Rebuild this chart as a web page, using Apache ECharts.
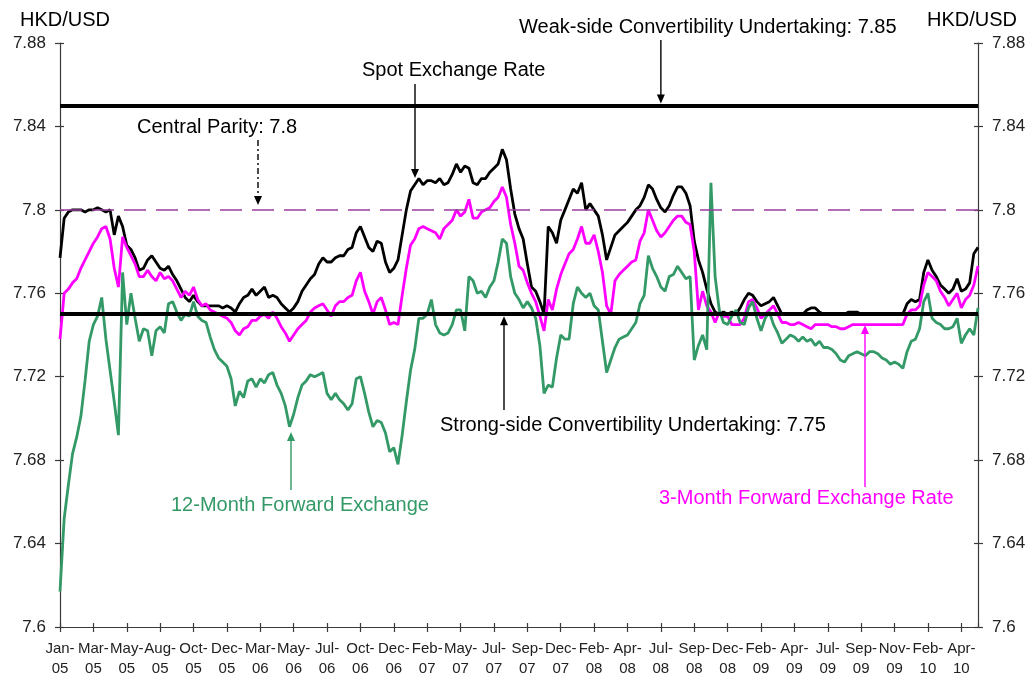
<!DOCTYPE html>
<html><head><meta charset="utf-8">
<script src="https://cdn.jsdelivr.net/npm/echarts@6/dist/echarts.min.js"></script>
<style>html,body{margin:0;padding:0;background:#fff}#c{width:1029px;height:679px}</style>
</head><body><div id="c"></div>
<script>
// ---- tick labels (category ticks along the time axis) ----
const tickMonths = ['Jan-','Mar-','May-','Aug-','Oct-','Dec-','Mar-','May-','Jul-','Oct-','Dec-','Feb-','May-','Jul-','Sep-','Dec-','Feb-','Apr-','Jul-','Sep-','Dec-','Feb-','Apr-','Jul-','Sep-','Nov-','Feb-','Apr-'];
const tickYears  = ['05','05','05','05','05','05','06','06','06','06','06','07','07','07','07','07','08','08','08','08','08','09','09','09','09','09','10','10'];
const pointsPerTick = 8;

// ---- series values (sampled, 8 samples per axis tick) ----
const spot = [
7.777,7.796,7.799,7.800,7.800,7.800,7.799,7.800,7.800,7.801,7.800,7.799,
7.800,7.788,7.797,7.792,7.783,7.781,7.777,7.771,7.772,7.776,7.778,
7.775,7.772,7.771,7.773,7.769,7.766,7.762,7.758,7.756,7.759,7.756,
7.754,7.754,7.754,7.754,7.754,7.753,7.754,7.753,7.751,7.755,7.758,
7.759,7.762,7.759,7.761,7.763,7.758,7.759,7.758,7.755,7.753,7.751,
7.753,7.756,7.761,7.764,7.767,7.769,7.774,7.777,7.775,7.775,7.777,
7.778,7.778,7.781,7.782,7.789,7.792,7.787,7.782,7.780,7.785,7.784,
7.775,7.770,7.772,7.776,7.788,7.800,7.809,7.812,7.815,7.812,7.814,
7.814,7.813,7.815,7.812,7.813,7.817,7.822,7.818,7.821,7.820,7.813,
7.812,7.815,7.815,7.818,7.820,7.822,7.829,7.824,7.810,7.798,7.791,
7.786,7.774,7.763,7.761,7.756,7.750,7.792,7.789,7.784,7.795,7.800,
7.805,7.810,7.808,7.813,7.800,7.803,7.800,7.797,7.788,7.776,7.782,7.788,
7.790,7.792,7.794,7.797,7.800,7.802,7.806,7.812,7.810,7.805,7.801,
7.799,7.802,7.807,7.811,7.811,7.808,7.802,7.785,7.776,7.770,7.762,7.755,
7.751,7.750,7.751,7.750,7.751,7.750,7.753,7.757,7.760,7.759,7.756,
7.754,7.755,7.756,7.758,7.754,7.750,7.750,7.750,7.750,7.750,
7.750,7.752,7.753,7.753,7.751,7.750,7.750,7.750,7.750,7.750,7.750,
7.751,7.751,7.751,7.750,7.750,7.750,7.750,7.750,7.750,7.750,7.750,
7.750,7.750,7.750,7.755,7.757,7.756,7.757,7.770,7.776,7.771,7.768,
7.764,7.762,7.760,7.762,7.767,7.761,7.762,7.765,7.779,7.782
];
const fwd3m = [
7.738,7.760,7.762,7.765,7.767,7.772,7.776,7.780,7.784,7.787,7.791,7.792,
7.786,7.772,7.763,7.787,7.782,7.778,7.774,7.768,7.768,7.771,7.768,
7.766,7.770,7.767,7.768,7.766,7.762,7.758,7.761,7.759,7.763,7.757,
7.754,7.755,7.752,7.751,7.750,7.749,7.748,7.746,7.742,7.740,7.743,
7.744,7.747,7.747,7.749,7.750,7.748,7.751,7.748,7.744,7.741,7.737,
7.740,7.743,7.745,7.747,7.751,7.753,7.754,7.755,7.752,7.749,7.754,
7.756,7.756,7.758,7.759,7.766,7.770,7.761,7.756,7.750,7.756,7.758,
7.752,7.745,7.746,7.745,7.759,7.772,7.783,7.786,7.791,7.792,7.791,
7.790,7.789,7.786,7.791,7.793,7.795,7.800,7.797,7.799,7.805,7.796,
7.796,7.799,7.800,7.801,7.804,7.806,7.811,7.806,7.793,7.784,7.773,
7.771,7.765,7.760,7.756,7.749,7.742,7.757,7.752,7.762,7.769,7.774,
7.779,7.781,7.786,7.792,7.784,7.784,7.788,7.780,7.770,7.754,7.750,7.766,
7.769,7.771,7.773,7.775,7.776,7.785,7.789,7.800,7.795,7.790,7.787,
7.789,7.792,7.795,7.797,7.797,7.794,7.793,7.780,7.752,7.761,7.754,7.751,
7.746,7.751,7.749,7.749,7.745,7.745,7.745,7.748,7.756,7.757,7.753,
7.748,7.750,7.752,7.754,7.750,7.746,7.746,7.745,7.745,7.746,
7.745,7.744,7.743,7.745,7.745,7.745,7.745,7.744,7.744,7.743,7.743,
7.744,7.745,7.745,7.745,7.745,7.745,7.745,7.745,7.745,7.745,7.745,
7.745,7.745,7.745,7.750,7.752,7.752,7.754,7.764,7.770,7.768,7.766,
7.761,7.758,7.754,7.757,7.760,7.753,7.757,7.759,7.764,7.773
];
const fwd12m = [
7.617,7.652,7.668,7.683,7.691,7.701,7.718,7.737,7.745,7.749,7.758,7.738,
7.723,7.708,7.692,7.770,7.745,7.760,7.748,7.737,7.743,7.742,7.730,
7.742,7.744,7.741,7.755,7.756,7.751,7.747,7.750,7.749,7.756,7.749,
7.747,7.746,7.739,7.733,7.729,7.727,7.725,7.719,7.706,7.713,7.710,
7.718,7.719,7.715,7.719,7.717,7.721,7.722,7.716,7.712,7.706,7.696,
7.702,7.710,7.716,7.718,7.721,7.720,7.721,7.722,7.712,7.709,7.712,
7.709,7.707,7.704,7.707,7.719,7.720,7.712,7.703,7.696,7.699,7.698,
7.693,7.684,7.686,7.678,7.692,7.708,7.723,7.733,7.748,7.748,7.750,
7.757,7.745,7.741,7.740,7.741,7.745,7.752,7.752,7.742,7.768,7.766,
7.760,7.761,7.758,7.763,7.766,7.775,7.786,7.784,7.768,7.760,7.757,
7.753,7.756,7.753,7.748,7.735,7.712,7.716,7.715,7.729,7.740,7.738,
7.738,7.755,7.763,7.760,7.758,7.760,7.754,7.752,7.737,7.722,7.728,7.734,
7.738,7.739,7.740,7.743,7.746,7.755,7.759,7.778,7.772,7.768,7.763,
7.761,7.768,7.769,7.773,7.770,7.767,7.768,7.728,7.735,7.740,7.733,7.813,
7.768,7.752,7.746,7.745,7.749,7.752,7.746,7.745,7.753,7.756,7.748,
7.742,7.748,7.751,7.745,7.741,7.736,7.738,7.740,7.739,7.737,
7.739,7.737,7.738,7.735,7.737,7.734,7.734,7.733,7.731,7.728,7.727,
7.730,7.731,7.732,7.731,7.730,7.732,7.732,7.731,7.729,7.728,7.726,
7.727,7.726,7.724,7.732,7.737,7.738,7.743,7.756,7.760,7.748,7.746,
7.745,7.743,7.743,7.744,7.748,7.736,7.740,7.743,7.740,7.753
];
const weakSide = 7.85, centralParity = 7.8, strongSide = 7.75;

const FONT = '"Liberation Sans", Arial, sans-serif';
const AX = '#3a3a3a';
const toXY = arr => arr.map((v, i) => [i / pointsPerTick, v]);
const xMax = (spot.length - 1) / pointsPerTick;

const chart = echarts.init(document.getElementById('c'), null, {renderer: 'canvas'});

function yAx(pos, inside, labels) {
  return {
    type: 'value', min: 7.6, max: 7.88, interval: 0.04, position: pos,
    splitLine: {show: false},
    axisLine: {show: !inside, onZero: false, lineStyle: {color: AX, width: 1.2}},
    axisTick: {show: true, inside: inside, length: inside ? 4 : 5, lineStyle: {color: AX, width: 1.2}},
    axisLabel: {show: labels, margin: 14, fontSize: 17, fontFamily: FONT, color: '#222'}
  };
}

const option = {
  animation: false,
  backgroundColor: '#fff',
  grid: {left: 60, right: 51, top: 43, bottom: 48},
  xAxis: [
    {
      type: 'value', min: 0, max: xMax, interval: 1, position: 'bottom',
      splitLine: {show: false},
      axisLine: {show: true, onZero: false, lineStyle: {color: AX, width: 1.2}},
      axisTick: {show: true, length: 5, lineStyle: {color: AX, width: 1.2}},
      axisLabel: {
        show: true, margin: 12, fontSize: 15, lineHeight: 20, fontFamily: FONT, color: '#222',
        showMaxLabel: false,
        formatter: v => {
          const k = Math.round(v);
          if (Math.abs(v - k) > 1e-6 || k >= tickMonths.length) return '';
          return tickMonths[k] + '\n' + tickYears[k];
        }
      }
    },
    {
      type: 'value', min: 0, max: xMax, interval: 1, position: 'bottom',
      splitLine: {show: false}, axisLine: {show: false, onZero: false},
      axisTick: {show: true, inside: true, length: 4, lineStyle: {color: AX, width: 1.2}},
      axisLabel: {show: false}
    }
  ],
  yAxis: [yAx('left', false, true), yAx('right', false, true), yAx('left', true, false), yAx('right', true, false)],
  series: [
    {
      name: 'parity', type: 'line', data: [], z: 1, silent: true,
      markLine: {
        silent: true, symbol: 'none', label: {show: false}, animation: false,
        lineStyle: {color: '#9a3c9e', width: 1.5, type: [22, 10]},
        data: [{yAxis: centralParity}]
      }
    },
    {name: 'Spot Exchange Rate', type: 'line', data: toXY(spot), showSymbol: false, z: 2,
      lineStyle: {color: '#000000', width: 2.8}, itemStyle: {color: '#000'}},
    {name: '3-Month Forward Exchange Rate', type: 'line', data: toXY(fwd3m), showSymbol: false, z: 3,
      lineStyle: {color: '#ff00ff', width: 2.8}, itemStyle: {color: '#ff00ff'}},
    {name: '12-Month Forward Exchange', type: 'line', data: toXY(fwd12m), showSymbol: false, z: 4,
      lineStyle: {color: '#339966', width: 2.8}, itemStyle: {color: '#339966'}},
    {
      name: 'bands', type: 'line', data: [], z: 10, silent: true,
      markLine: {
        silent: true, symbol: 'none', label: {show: false}, animation: false,
        lineStyle: {color: '#000', width: 4, type: 'solid'},
        data: [{yAxis: weakSide}, {yAxis: strongSide}]
      }
    }
  ]
};
chart.setOption(option);

// ---- annotations ----
function txt(x, y, s, color, align) {
  return {type: 'text', x: x, y: y, z: 100,
    style: {text: s, fontSize: 20, fontFamily: FONT, fill: color || '#000',
      align: align || 'left', textAlign: align || 'left', verticalAlign: 'middle', textVerticalAlign: 'middle'}};
}
function arrow(x, yFrom, yTip, color, dash) {
  const dir = yTip > yFrom ? 1 : -1;
  return [
    {type: 'line', z: 100, shape: {x1: x, y1: yFrom, x2: x, y2: yTip - dir * 6},
      style: {stroke: color, lineWidth: 1.4, lineDash: dash || null}},
    {type: 'polygon', z: 100, shape: {points: [[x - 4, yTip - dir * 9], [x + 4, yTip - dir * 9], [x, yTip]]},
      style: {fill: color}}
  ];
}
const py = v => chart.convertToPixel({yAxisIndex: 0}, v);
const px = v => chart.convertToPixel({xAxisIndex: 0}, v);

const g = [
  txt(65, 20, 'HKD/USD', '#000', 'center'),
  txt(972, 20, 'HKD/USD', '#000', 'center'),
  txt(519, 27, 'Weak-side Convertibility Undertaking: 7.85'),
  txt(362, 70, 'Spot Exchange Rate'),
  txt(137, 127, 'Central Parity: 7.8'),
  txt(440, 425, 'Strong-side Convertibility Undertaking: 7.75'),
  txt(171, 505, '12-Month Forward Exchange', '#339966'),
  txt(659, 498, '3-Month Forward Exchange Rate', '#ff00ff')
].concat(
  arrow(px(18), 40, py(weakSide) - 2, '#000'),
  arrow(415, 84, 178, '#000'),
  arrow(258, 140, 205, '#000', [6, 3, 2, 3]),
  arrow(504, 410, py(strongSide) + 2, '#000'),
  arrow(291, 490, 432, '#339966'),
  arrow(865, 487, 325, '#ff00ff')
);
chart.setOption({graphic: g});
</script>
</body></html>
